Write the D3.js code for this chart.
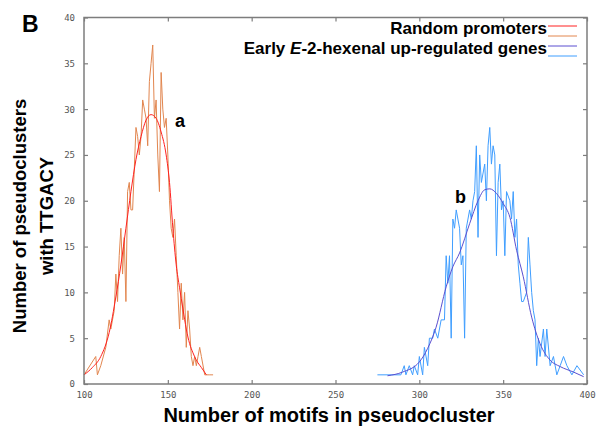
<!DOCTYPE html>
<html>
<head>
<meta charset="utf-8">
<script src="https://cdn.jsdelivr.net/npm/d3@7"></script>
<style>
  body { margin: 0; background: #fff; }
  svg { display: block; }
  .tick text { font-family: "DejaVu Sans Mono", monospace; font-size: 9px; fill: #555; }
  .lbl { font-family: "Liberation Sans", Arial, sans-serif; font-weight: bold; fill: #000; }
</style>
</head>
<body>
<svg id="chart" width="597" height="428"></svg>
<script>
// raw counts, random promoters
var randMotifs = [100,107,108,110,113,115,116,118,119,120,121,122,123,124,125,126,127,128,129,131,132,133,134,
                  135,136,137,138,139,140,141,142,143,144,145,146,147,148,149,150,151,152,153,154,155,156,157,158,
                  159,160,161,162,163,164,165,166,167,168,169,170,172,175,177];
var randCounts = [1,3,1,2,4,7,6,8,12,9,14,17,12,16,9,21,22,19,19,28,27,25,27,
                  31,30,29,26,33,35,37,29,31,25,21,34,30,28,29,25,20,17,16,18,14,10,6,11,
                  7,10,4,8,6,3,2,3,2,3,4,3,1,1,1];
// smoothed curve, random promoters
var randFitX = [100,105,110,115,119,122,125,128,131,134,137,140,143,146,149,151,153,155,157,159,161,163,165,167,170,173];
var randFitY = [1,1.8,3,5.6,9.5,13,17,21,24.5,27,28.8,29.4,29,27.5,25,22,17,13,10.5,8.2,6,4.4,3.4,2.6,1.8,1];

// raw counts, early E-2-hexenal up-regulated genes
var hexMotifs = [275,289,291,292,294,296,297,299,300,302,303,305,306,308,309,311,313,315,316,317,318,319,320,
                 321,322,324,325,326,327,328,329,330,331,332,333,334,335,336,337,339,340,341,342,343,344,345,
                 346,347,348,349,350,351,352,354,355,356,357,358,359,360,361,362,364,365,366,367,368,369,370,
                 371,372,374,375,376,378,380,382,384,386,388,391,394,398];
var hexCounts = [1,1,2,1,2,1,2,1,3,1,4,2,5,5,6,5,7,7,14,11,14,5,18,
                 17,19,17,13,14,5,17,18,19,18,20,21,26,16,25,22,24,20,26,28,24,26,25,
                 14,22,24,19,20,14,21,20,18,21,16,18,13,11,9,9,10,16,13,10,8,7,2,
                 5,3,6,3,6,2,3,1,2,3,2,1,2,1,1];
// smoothed curve, early E-2-hexenal up-regulated genes
var hexFitX = [281,290,300,305,310,316,320,324,330,335,339,342,346,350,354,358,362,367,372,378,384,392,398];
var hexFitY = [0.9,1.3,2.4,3.9,6.2,10.6,12.8,14.3,17.5,20,21.2,21.3,20.8,19.7,18.2,14.6,11.7,7.3,4.4,2.6,1.9,1.3,0.8];

var xTicks = [100,150,200,250,300,350,400];
var yTicks = [0,5,10,15,20,25,30,35,40];

var svg = d3.select("#chart"),
    margin = {top: 17.5, right: 10, bottom: 44, left: 84},
    width = +svg.attr("width") - margin.left - margin.right,
    height = +svg.attr("height") - margin.top - margin.bottom;

var x = d3.scaleLinear().domain([100, 400]).range([0, width]),
    y = d3.scaleLinear().domain([0, 40]).range([height, 0]);

var g = svg.append("g").attr("transform", "translate(" + margin.left + "," + margin.top + ")");

function pts(xs, ys) { return xs.map(function(v, i) { return [v, ys[i]]; }); }

var line = d3.line()
    .x(function(d) { return x(d[0]); })
    .y(function(d) { return y(d[1]); });

var series = [
  {d: pts(randMotifs, randCounts), c: "#e2864f", w: 1},
  {d: pts(randFitX, randFitY), c: "#ff2020", w: 1, curve: true},
  {d: pts(hexMotifs, hexCounts), c: "#3f9eff", w: 1},
  {d: pts(hexFitX, hexFitY), c: "#5a4fd0", w: 1, curve: true}
];

series.forEach(function(s) {
  g.append("path")
      .datum(s.d)
      .attr("fill", "none")
      .attr("stroke", s.c)
      .attr("stroke-width", s.w)
      .attr("stroke-linejoin", "round")
      .attr("d", s.curve ? line.curve(d3.curveMonotoneX)(s.d) : line.curve(d3.curveLinear)(s.d));
});

// axes: inward ticks on all four sides
var frameColor = "#7d7d7d";

g.append("g")
    .attr("class", "axis axis--x")
    .attr("transform", "translate(0," + height + ")")
    .call(d3.axisBottom(x).tickValues(xTicks).tickSizeInner(-4).tickSizeOuter(0).tickPadding(7.6));

g.append("g")
    .attr("class", "axis axis--x2")
    .call(d3.axisTop(x).tickValues(xTicks).tickSizeInner(-4).tickSizeOuter(0).tickFormat(""));

g.append("g")
    .attr("class", "axis axis--y")
    .call(d3.axisLeft(y).tickValues(yTicks).tickSizeInner(-4).tickSizeOuter(0).tickPadding(9));

g.append("g")
    .attr("class", "axis axis--y2")
    .attr("transform", "translate(" + width + ",0)")
    .call(d3.axisRight(y).tickValues(yTicks).tickSizeInner(-4).tickSizeOuter(0).tickFormat(""));

g.selectAll(".domain").remove();
g.selectAll(".tick line").attr("stroke", frameColor).attr("stroke-width", 1.2);

g.append("rect")
    .attr("width", width)
    .attr("height", height)
    .attr("fill", "none")
    .attr("stroke", frameColor)
    .attr("stroke-width", 1.5);

// legend
var legend = [
  {text: "Random promoters", y: 34, lines: ["#ff2020", "#e2864f"]},
  {text: "Early |E|-2-hexenal up-regulated genes", y: 54, lines: ["#5a4fd0", "#3f9eff"]}
];

legend.forEach(function(l, i) {
  var t = svg.append("text")
      .attr("class", "lbl")
      .attr("x", 547)
      .attr("y", l.y)
      .attr("text-anchor", "end")
      .style("font-size", "17px");
  l.text.split("|").forEach(function(part, j) {
    t.append("tspan").text(part).style("font-style", j === 1 ? "italic" : null);
  });
  l.lines.forEach(function(c, j) {
    var ly = 26 + i * 20 + j * 10;
    svg.append("line")
        .attr("x1", 548).attr("x2", 577)
        .attr("y1", ly).attr("y2", ly)
        .attr("stroke", c)
        .attr("stroke-width", 1);
  });
});

// annotations
svg.append("text").attr("class", "lbl").attr("x", 22).attr("y", 32).style("font-size", "23px").text("B");
svg.append("text").attr("class", "lbl").attr("x", 175).attr("y", 127).style("font-size", "18px").text("a");
svg.append("text").attr("class", "lbl").attr("x", 455).attr("y", 203).style("font-size", "18px").text("b");

svg.append("text")
    .attr("class", "lbl")
    .attr("x", 329)
    .attr("y", 422)
    .attr("text-anchor", "middle")
    .style("font-size", "20px")
    .text("Number of motifs in pseudocluster");

var yl = svg.append("text")
    .attr("class", "lbl")
    .attr("transform", "translate(26,216) rotate(-90)")
    .attr("text-anchor", "middle")
    .style("font-size", "18.5px");
yl.append("tspan").attr("x", 0).attr("y", 0).text("Number of pseudoclusters");
yl.append("tspan").attr("x", 0).attr("y", 27).text("with TTGACY");
</script>
</body>
</html>
